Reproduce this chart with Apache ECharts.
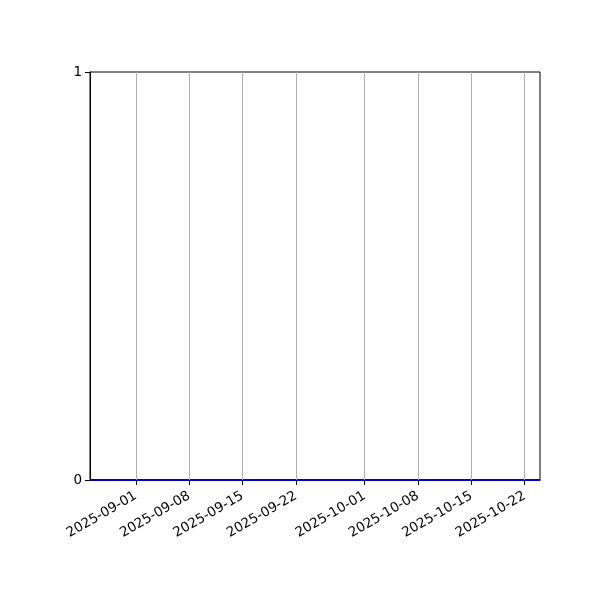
<!DOCTYPE html>
<html>
<head>
<meta charset="utf-8">
<script src="https://cdn.jsdelivr.net/npm/echarts@6/dist/echarts.min.js"></script>
<style>
    html, body { margin: 0; padding: 0; background: #fff; }
    #chart { width: 600px; height: 600px; }
</style>
</head>
<body>
<div id="chart"></div>
<script>
// data
var dates = ['2025-08-26', '2025-09-01', '2025-09-08', '2025-09-15', '2025-09-22',
             '2025-10-01', '2025-10-08', '2025-10-15', '2025-10-22', '2025-10-24'];
var values = [0, 0, 0, 0, 0, 0, 0, 0, 0, 0];
var xTicks = ['2025-09-01', '2025-09-08', '2025-09-15', '2025-09-22',
              '2025-10-01', '2025-10-08', '2025-10-15', '2025-10-22'];
var xMin = '2025-08-26';
var xMax = '2025-10-24';

// local-time timestamp from 'yyyy-MM-dd'
function ts(s) {
    var p = s.split('-');
    return new Date(+p[0], +p[1] - 1, +p[2]).getTime();
}
function pad(n) { return n < 10 ? '0' + n : '' + n; }
function fmt(v) {
    var d = new Date(v);
    return d.getFullYear() + '-' + pad(d.getMonth() + 1) + '-' + pad(d.getDate());
}

var tickVals = xTicks.map(ts);

var dom = document.getElementById('chart');
var myChart = echarts.init(dom);
var font = 'DejaVu Sans';

var option = {
    animation: false,
    grid: {
        left: 90, right: 60, top: 72, bottom: 120,
        show: true, borderColor: '#000', borderWidth: 1
    },
    xAxis: {
        type: 'value',
        min: ts(xMin),
        max: ts(xMax),
        axisLine: { onZero: false, lineStyle: { color: '#000', width: 1 } },
        axisTick: { show: true, length: 5, lineStyle: { color: '#000' }, customValues: tickVals },
        axisLabel: {
            customValues: tickVals,
            rotate: 30,
            margin: 15,
            color: '#000',
            fontFamily: font,
            fontSize: 13.5,
            formatter: function (v) { return fmt(v); }
        },
        splitLine: { show: false }
    },
    yAxis: {
        type: 'value',
        min: 0,
        max: 1,
        interval: 1,
        axisLine: { show: true, lineStyle: { color: '#000', width: 1 } },
        axisTick: { show: true, length: 5, lineStyle: { color: '#000' } },
        axisLabel: { color: '#000', fontFamily: font, fontSize: 13.5, margin: 8 },
        splitLine: { show: false }
    },
    series: [{
        type: 'line',
        data: dates.map(function (d, i) { return [ts(d), values[i]]; }),
        showSymbol: false,
        lineStyle: { color: '#0000cc', width: 2 },
        markLine: {
            silent: true,
            symbol: 'none',
            label: { show: false },
            lineStyle: { color: '#b0b0b0', width: 1, type: 'solid' },
            data: tickVals.map(function (v) { return { xAxis: v }; })
        },
        z: 3
    }]
};

myChart.setOption(option, true);
</script>
</body>
</html>
